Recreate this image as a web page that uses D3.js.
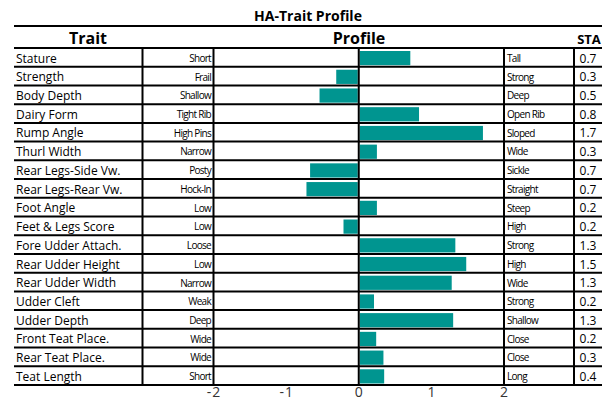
<!DOCTYPE html>
<html>
<head>
<meta charset="utf-8">
<script src="https://cdn.jsdelivr.net/npm/d3@7"></script>
<style>
  body { margin: 0; background: #fff; }
  text { font-family: "Open Sans", "Noto Sans", sans-serif; }
</style>
</head>
<body>
<div id="chart"></div>
<script>
var traits = ["Stature", "Strength", "Body Depth", "Dairy Form", "Rump Angle", "Thurl Width",
  "Rear Legs-Side Vw.", "Rear Legs-Rear Vw.", "Foot Angle", "Feet & Legs Score",
  "Fore Udder Attach.", "Rear Udder Height", "Rear Udder Width", "Udder Cleft",
  "Udder Depth", "Front Teat Place.", "Rear Teat Place.", "Teat Length"];
var lowLabels = ["Short", "Frail", "Shallow", "Tight Rib", "High Pins", "Narrow", "Posty", "Hock-In",
  "Low", "Low", "Loose", "Low", "Narrow", "Weak", "Deep", "Wide", "Wide", "Short"];
var highLabels = ["Tall", "Strong", "Deep", "Open Rib", "Sloped", "Wide", "Sickle", "Straight",
  "Steep", "High", "Strong", "High", "Wide", "Strong", "Shallow", "Close", "Close", "Long"];
var values = [0.71, -0.31, -0.54, 0.83, 1.71, 0.25, -0.67, -0.72, 0.25, -0.21,
  1.33, 1.48, 1.28, 0.21, 1.30, 0.24, 0.34, 0.35];
var sta = ["0.7", "0.3", "0.5", "0.8", "1.7", "0.3", "0.7", "0.7", "0.2", "0.2",
  "1.3", "1.5", "1.3", "0.2", "1.3", "0.2", "0.3", "0.4"];
var ticks = [-2, -1, 0, 1, 2];

var width = 616, height = 400;
var left = 14, right = 602;

var svg = d3.select("#chart").append("svg")
  .attr("width", width)
  .attr("height", height);

var x = d3.scaleLinear().domain([-2, 2]).range([213.5, 504]);
var y = d3.scaleBand().domain(traits).range([48, 385]);

// title
svg.append("text")
  .attr("x", 308).attr("y", 21)
  .attr("text-anchor", "middle")
  .style("font-size", "14px").style("font-weight", "bold")
  .text("HA-Trait Profile");

svg.append("line")
  .attr("x1", left).attr("x2", right)
  .attr("y1", 26).attr("y2", 26)
  .attr("stroke", "#000").attr("stroke-width", 2);

// headers
var headers = [["Trait", 88, 16], ["Profile", 359, 16], ["STA", 589, 13]];
svg.selectAll(".hdr").data(headers).enter().append("text")
  .attr("class", "hdr")
  .attr("x", function(d) { return d[1]; })
  .attr("y", 44)
  .attr("text-anchor", "middle")
  .style("font-size", function(d) { return d[2] + "px"; })
  .style("font-weight", "bold")
  .text(function(d) { return d[0]; });

// bars
svg.selectAll(".bar").data(values).enter().append("rect")
  .attr("class", "bar")
  .attr("x", function(d) { return d < 0 ? x(d) : x(0) + 1; })
  .attr("y", function(d, i) { return y(traits[i]) + 3; })
  .attr("width", function(d) { return d < 0 ? x(0) - 1 - x(d) : x(d) - x(0) - 1; })
  .attr("height", y.bandwidth() - 4.5)
  .attr("fill", "#009590");

// row lines
var edges = traits.map(function(t) { return y(t); }).concat([385]);
svg.selectAll(".hline").data(edges).enter().append("line")
  .attr("class", "hline")
  .attr("x1", left).attr("x2", right)
  .attr("y1", function(d) { return d; }).attr("y2", function(d) { return d; })
  .attr("stroke", "#000").attr("stroke-width", 2);

// column lines
var cols = [142.5, 213.5, x(0), 504, 574];
svg.selectAll(".vline").data(cols).enter().append("line")
  .attr("class", "vline")
  .attr("x1", function(d) { return d; }).attr("x2", function(d) { return d; })
  .attr("y1", 48).attr("y2", 385)
  .attr("stroke", "#000").attr("stroke-width", 2);

// row texts
var rows = svg.selectAll(".row").data(traits).enter().append("g")
  .attr("class", "row")
  .attr("transform", function(d) { return "translate(0," + (y(d) + y.bandwidth() / 2 + 1) + ")"; });

rows.append("text")
  .attr("x", 16)
  .attr("dy", "0.35em")
  .style("font-size", "12px")
  .text(function(d) { return d; });

rows.append("text")
  .attr("x", 211)
  .attr("dy", "0.35em")
  .attr("text-anchor", "end")
  .style("font-size", "10px")
  .style("letter-spacing", "-0.7px")
  .text(function(d, i) { return lowLabels[i]; });

rows.append("text")
  .attr("x", 507)
  .attr("dy", "0.35em")
  .style("font-size", "10px")
  .style("letter-spacing", "-0.7px")
  .text(function(d, i) { return highLabels[i]; });

rows.append("text")
  .attr("x", 588)
  .attr("dy", "0.35em")
  .attr("text-anchor", "middle")
  .style("font-size", "12px")
  .text(function(d, i) { return sta[i]; });

// axis
var axis = svg.append("g")
  .attr("transform", "translate(0,385)")
  .call(d3.axisBottom(x).tickValues(ticks).tickSize(0).tickPadding(2)
    .tickFormat(function(d) { return d < 0 ? "-" + Math.abs(d) : d; }));
axis.select(".domain").remove();
axis.selectAll("text")
  .style("font-size", "14px")
  .style("font-family", "'Open Sans', sans-serif")
  .style("letter-spacing", "1px")
  .attr("fill", "#333");
</script>
</body>
</html>
